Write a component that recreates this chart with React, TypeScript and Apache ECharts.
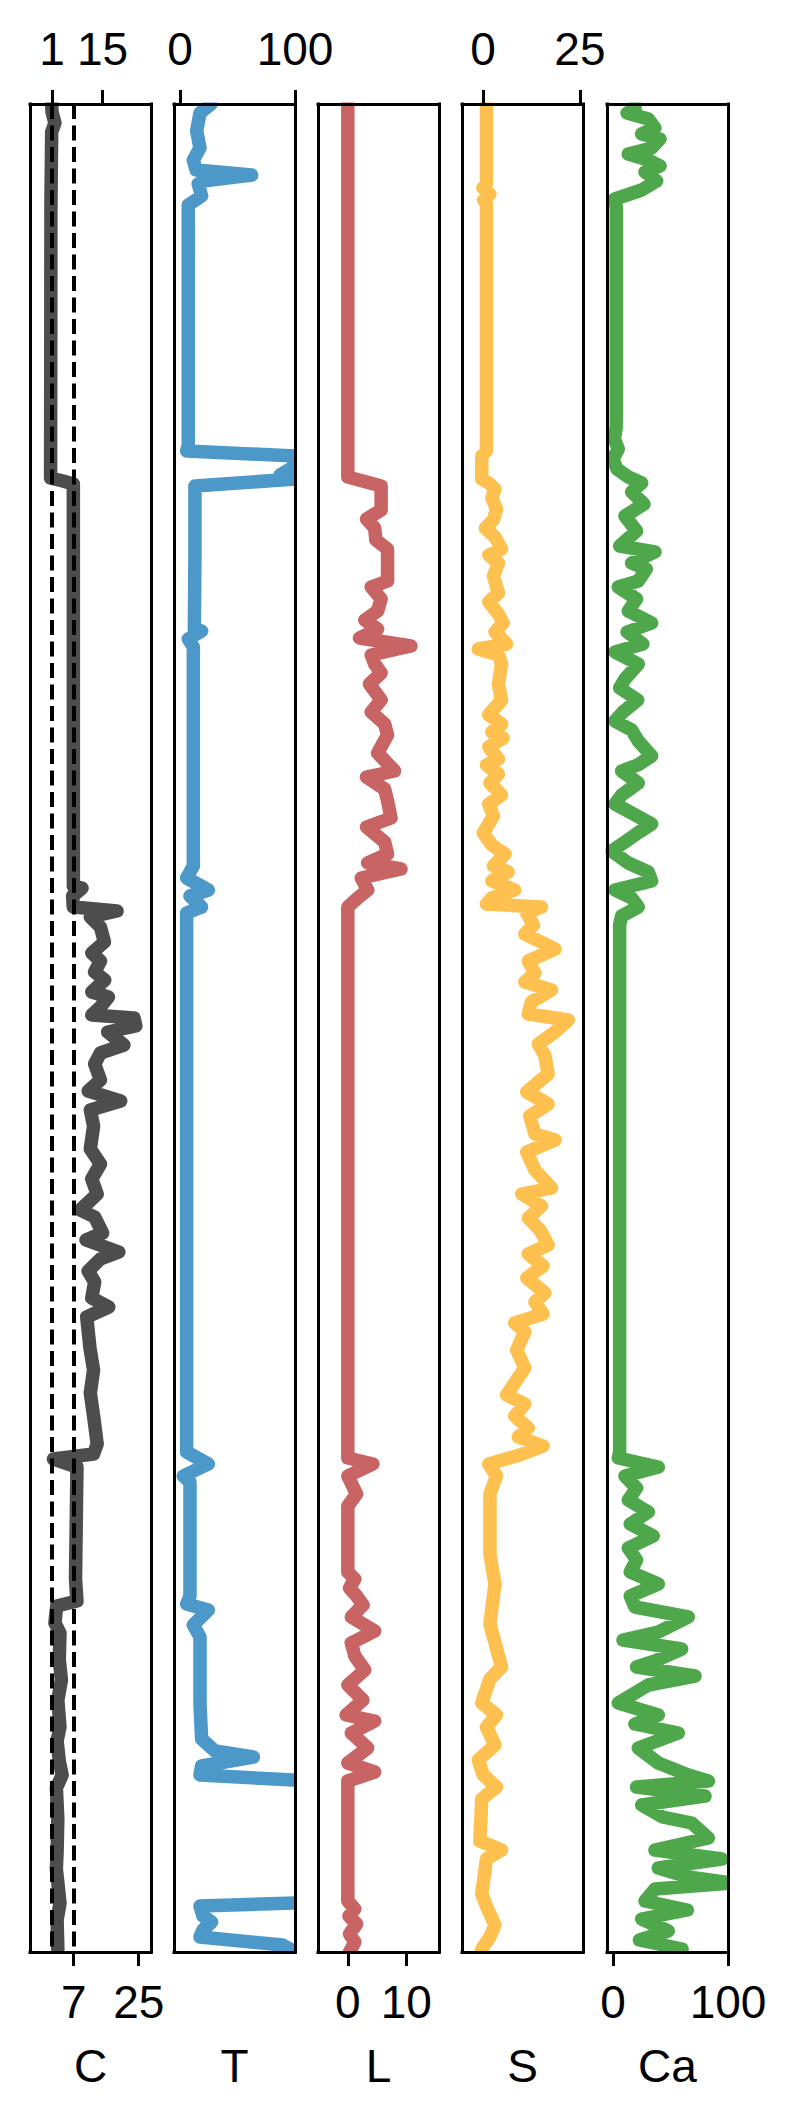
import React, { useEffect, useRef } from "react";
import * as echarts from "echarts";

// depth runs from 0 (top) to DEPTH_MAX (bottom)
const DEPTH_MAX = 1848;

const cDepth = [0, 8, 19, 28, 100, 374, 377, 380, 782, 784, 792, 803, 807, 813, 823, 838, 849, 857, 868, 876, 888, 893, 903, 911, 914, 922, 928, 941, 949, 960, 976, 987, 997, 1006, 1022, 1045, 1060, 1075, 1090, 1106, 1113, 1129, 1136, 1148, 1155, 1167, 1178, 1194, 1203, 1213, 1244, 1266, 1289, 1312, 1326, 1340, 1350, 1355, 1363, 1475, 1497, 1502, 1519, 1529, 1556, 1576, 1596, 1623, 1637, 1657, 1671, 1684, 1715, 1748, 1765, 1799, 1816, 1843, 1848];
const cValue = [0.9, 1.0, 1.8, 0.9, 0.7, 0.6, 4.0, 6.9, 6.9, 9.3, 6.7, 6.9, 19.0, 11.6, 14.4, 15.5, 12.0, 14.4, 12.8, 15.6, 12.0, 16.6, 14.4, 12.0, 23.7, 24.2, 16.4, 20.9, 14.4, 12.8, 14.4, 11.0, 20.0, 11.6, 12.5, 11.6, 14.4, 12.0, 13.5, 8.8, 12.8, 15.0, 10.4, 19.5, 14.4, 11.0, 12.8, 12.0, 16.7, 10.6, 11.5, 12.5, 11.6, 12.5, 13.0, 13.5, 12.5, 1.4, 7.9, 7.5, 7.9, 2.3, 1.8, 3.2, 3.0, 3.6, 2.6, 3.2, 2.4, 3.0, 3.8, 2.2, 2.6, 2.4, 2.2, 3.2, 2.4, 2.6, 2.6];

const tDepth = [0, 9, 27, 44, 56, 66, 71, 77, 80, 92, 101, 200, 341, 347, 352, 362, 371, 375, 382, 450, 525, 527, 535, 543, 650, 762, 774, 786, 792, 803, 809, 821, 1000, 1348, 1360, 1372, 1378, 1492, 1500, 1506, 1521, 1533, 1600, 1635, 1647, 1653, 1662, 1671, 1678, 1798, 1802, 1812, 1818, 1826, 1833, 1841, 1848];
const tValue = [27, 17.4, 14.5, 17.4, 11.6, 14, 62.3, 20, 15.9, 18.8, 7.2, 7.2, 7.2, 5.8, 100, 100, 87, 100, 13, 13, 12.5, 18.8, 7.2, 11.6, 11.6, 11.6, 5.8, 24.6, 8.7, 18.8, 5.8, 5.8, 5.8, 5.8, 24.6, 2.9, 8.7, 8.7, 5.8, 24.6, 11.6, 17.4, 17.4, 18.8, 30.4, 63.8, 18.8, 17.4, 130, 130, 17.4, 20, 27.5, 20, 17.4, 89, 100];

const lDepth = [0, 373, 382, 406, 415, 424, 436, 445, 477, 483, 495, 507, 516, 525, 534, 542, 551, 560, 569, 580, 596, 608, 620, 631, 649, 667, 673, 685, 697, 714, 723, 738, 750, 759, 765, 774, 786, 794, 803, 1354, 1360, 1372, 1390, 1402, 1468, 1475, 1484, 1492, 1501, 1513, 1527, 1539, 1552, 1566, 1581, 1596, 1611, 1617, 1629, 1644, 1659, 1668, 1677, 1797, 1805, 1812, 1820, 1830, 1838, 1848];
const lValue = [0, 0, 5.7, 5.7, 3.2, 4.6, 4.8, 6.8, 6.8, 4.0, 5.7, 5.1, 2.9, 5.1, 2.0, 10.8, 4.0, 4.6, 5.7, 3.7, 5.7, 4.0, 6.3, 6.8, 5.1, 8.0, 3.2, 6.3, 6.8, 7.4, 3.2, 6.3, 6.8, 3.4, 9.1, 2.3, 3.4, 1.7, 0, 0, 4.3, 0, 1.5, 0, 0, 1.2, 0.3, 1.5, 2.6, 0.6, 4.6, 0.6, 1.2, 2.9, 0, 2.6, -0.3, 4.6, 0.6, 3.4, 0, 4.6, 0, 0, 1.2, 0.2, 1.5, 0.3, 1.2, 0.3];

const sDepth = [0, 80, 84, 90, 96, 100, 347, 352, 375, 379, 385, 394, 405, 416, 424, 433, 445, 451, 459, 472, 489, 498, 510, 519, 528, 540, 545, 551, 560, 580, 596, 611, 620, 628, 634, 643, 655, 661, 670, 679, 691, 700, 712, 729, 741, 750, 762, 768, 777, 786, 794, 800, 803, 809, 821, 830, 845, 857, 869, 878, 886, 898, 910, 916, 928, 940, 952, 970, 988, 1000, 1012, 1030, 1036, 1048, 1066, 1084, 1090, 1102, 1114, 1126, 1141, 1150, 1162, 1174, 1189, 1198, 1210, 1219, 1228, 1246, 1264, 1276, 1291, 1300, 1312, 1324, 1333, 1342, 1351, 1360, 1372, 1390, 1450, 1480, 1520, 1563, 1575, 1599, 1611, 1623, 1641, 1656, 1671, 1683, 1695, 1737, 1746, 1755, 1790, 1803, 1821, 1833, 1843, 1848];
const sValue = [0.9, 0.9, 0, 1.8, 0.2, 0.9, 0.9, -0.3, -0.3, 1.5, 3.1, 2.3, 3.5, 2.7, 0.6, 3.1, 4.8, 1.5, 4.0, 2.7, 4.0, 1.5, 4.0, 5.2, 3.1, 6.1, -1.2, 4.0, 4.8, 4.0, 4.8, 1.5, 4.8, 2.3, 5.2, 1.5, 4.0, 0.9, 4.0, 1.8, 4.8, 1.5, 2.7, 0.1, 2.3, 5.7, 2.7, 6.5, 2.3, 8.2, 2.3, 0.9, 15.1, 11.3, 13.0, 10.8, 18.6, 11.7, 13.4, 10.8, 17.7, 12.5, 11.7, 22.0, 18.6, 14.3, 16.0, 16.8, 11.3, 16.8, 12.1, 13.4, 18.6, 11.3, 13.4, 17.7, 10.0, 15.1, 11.7, 14.7, 16.8, 11.7, 15.5, 11.3, 16.0, 13.4, 15.5, 8.2, 10.8, 8.7, 10.8, 8.7, 6.1, 10.8, 8.2, 11.7, 9.1, 15.5, 9.5, 1.5, 3.5, 1.8, 1.8, 3.1, 1.8, 4.8, 1.8, -0.3, 3.5, 0.9, 3.1, -1.2, 0.1, 3.5, -0.3, -0.8, 4.8, 0.9, -0.3, 1.0, 3.1, 1.8, 0, -0.5];

const caDepth = [0, 6, 9, 15, 24, 30, 35, 44, 50, 56, 62, 68, 77, 86, 95, 104, 323, 335, 345, 355, 365, 373, 379, 388, 400, 412, 427, 442, 448, 459, 465, 477, 483, 495, 507, 519, 528, 540, 548, 560, 575, 584, 596, 608, 617, 626, 637, 652, 661, 667, 679, 691, 700, 709, 720, 729, 738, 747, 759, 768, 777, 786, 794, 803, 812, 821, 1100, 1348, 1354, 1363, 1372, 1384, 1396, 1408, 1420, 1432, 1444, 1456, 1468, 1480, 1492, 1503, 1513, 1528, 1536, 1545, 1557, 1563, 1572, 1581, 1599, 1611, 1620, 1629, 1644, 1659, 1671, 1677, 1683, 1692, 1701, 1713, 1719, 1734, 1746, 1755, 1764, 1773, 1779, 1785, 1797, 1806, 1815, 1827, 1836, 1845, 1848];
const caValue = [19.1, 19.1, 12.3, 30.7, 36.5, 24.9, 40.9, 33.6, 13.3, 30.7, 40.9, 27.8, 38.0, 24.9, 1.7, 2.9, 2.9, 1.2, 4.6, 0, 3.5, 13.3, 24.9, 16.2, 27, 10.4, 20.5, 5.8, 36.5, 16.2, 29, 22, 4.6, 20.5, 13.3, 33.6, 12.3, 26, 1.7, 22.0, 10.4, 5.8, 21.5, 8.7, 1.7, 16.2, 22, 33.6, 21.5, 7.5, 22, 7.5, 1.7, 16.2, 33.6, 21.5, 10.4, -1.2, 13.3, 30.7, 33.6, 1.7, 16.2, 22, 7.5, 5.8, 5.8, 5.8, 4.6, 39.4, 10.4, 20.5, 13.3, 30.7, 15, 35, 13.3, 20.5, 15, 39.4, 15, 19.1, 65.5, 39.4, 8.7, 59.7, 36.5, 20.5, 71.3, 30.7, 4.6, 39.4, 19.1, 56.8, 22, 39.4, 65.5, 82.9, 20.5, 80, 24.9, 43, 68.4, 82.9, 36.5, 94.5, 39.4, 65.5, 103, 36.5, 27.8, 64.6, 24.9, 48, 23, 60, 60];

const panelNames = ["C", "T", "L", "S", "Ca"];
const axisMin = [-5.1, -5.2, -5.1, -5.4, -5.2];
const axisMax = [28.4, 100, 15.6, 25.8, 100];
const topTicks = [[1, 15], [0, 100], [], [0, 25], []];
const bottomTicks = [[7, 25], [], [0, 10], [], [0, 100]];
const cReferenceLines = [1, 7];
const colors = ["#4d4d4d", "#4b98c9", "#c96464", "#fec04e", "#4ea84b"];

const depths = [cDepth, tDepth, lDepth, sDepth, caDepth];
const values = [cValue, tValue, lValue, sValue, caValue];

// layout
const gridLefts = [30, 174, 318, 462, 607];
const GRID_W = 121;
const GRID_TOP = 104;
const GRID_H = 1848;
const W = 799;
const H = 2122;
const FONT = "'Liberation Sans', Arial, Helvetica, sans-serif";

export default function App() {
  const ref = useRef<HTMLDivElement>(null);

  useEffect(() => {
    if (!ref.current) return;
    const chart = echarts.init(ref.current, null, { renderer: "svg" });

    const grids = gridLefts.map((left) => ({
      left,
      top: GRID_TOP,
      width: GRID_W,
      height: GRID_H,
      containLabel: false,
      outerBoundsMode: "none",
      show: false,
    }));

    const lineStyle = { color: "#000", width: 3, cap: "square" };

    const xAxes: any[] = [];
    const yAxes: any[] = [];
    panelNames.forEach((name, i) => {
      (["top", "bottom"] as const).forEach((pos) => {
        const ticks = pos === "top" ? topTicks[i] : bottomTicks[i];
        xAxes.push({
          type: "value",
          gridIndex: i,
          position: pos,
          min: axisMin[i],
          max: axisMax[i],
          z: 5,
          axisLine: { show: true, onZero: false, lineStyle },
          axisTick: {
            show: ticks.length > 0,
            customValues: ticks,
            length: 14,
            lineStyle: { color: "#000", width: 3 },
          },
          axisLabel: {
            show: ticks.length > 0,
            customValues: ticks,
            showMinLabel: true,
            showMaxLabel: true,
            margin: pos === "top" ? 32 : 27,
            fontSize: 46,
            color: "#000",
            fontFamily: FONT,
          },
          splitLine: { show: false },
          name: pos === "bottom" ? name : "",
          nameLocation: "middle",
          nameGap: 91,
          nameTextStyle: { fontSize: 46, color: "#000", fontFamily: FONT },
        });
      });
      (["left", "right"] as const).forEach((pos) => {
        yAxes.push({
          type: "value",
          gridIndex: i,
          position: pos,
          inverse: true,
          min: 0,
          max: DEPTH_MAX,
          z: 5,
          axisLine: { show: true, onZero: false, lineStyle },
          axisTick: { show: false },
          axisLabel: { show: false },
          splitLine: { show: false },
        });
      });
    });

    const series = panelNames.map((name, i) => {
      const s: any = {
        name,
        type: "line",
        xAxisIndex: 2 * i + 1,
        yAxisIndex: 2 * i,
        data: depths[i].map((d, k) => [values[i][k], d]),
        showSymbol: false,
        symbol: "none",
        clip: true,
        silent: true,
        lineStyle: { color: colors[i], width: 13.5, join: "round", cap: "round" },
        z: 2,
      };
      if (i === 0) {
        s.markLine = {
          silent: true,
          symbol: ["none", "none"],
          label: { show: false },
          lineStyle: { type: [15, 6.5], color: "#000", width: 4 },
          data: cReferenceLines.map((v) => ({ xAxis: v })),
        };
      }
      return s;
    });

    // white masks outside the plot frames so the thick lines are clipped at the frame
    const half = 1.5;
    const masks: any[] = [
      { x: 0, y: 0, w: W, h: GRID_TOP - half },
      { x: 0, y: GRID_TOP + GRID_H + half, w: W, h: H - (GRID_TOP + GRID_H + half) },
      { x: 0, y: 0, w: gridLefts[0] - half, h: H },
    ];
    gridLefts.forEach((left, i) => {
      const r = left + GRID_W + half;
      const next = i < gridLefts.length - 1 ? gridLefts[i + 1] - half : W;
      masks.push({ x: r, y: 0, w: next - r, h: H });
    });
    const graphic = masks.map((m) => ({
      type: "rect",
      silent: true,
      z: 3,
      shape: { x: m.x, y: m.y, width: m.w, height: m.h },
      style: { fill: "#fff" },
    }));

    chart.setOption({
      animation: false,
      backgroundColor: "#fff",
      grid: grids,
      xAxis: xAxes,
      yAxis: yAxes,
      series,
      graphic,
    });

    return () => chart.dispose();
  }, []);

  return (
    <div
      ref={ref}
      style={{ position: "fixed", left: 0, top: 0, width: W, height: H, background: "#fff" }}
    />
  );
}
